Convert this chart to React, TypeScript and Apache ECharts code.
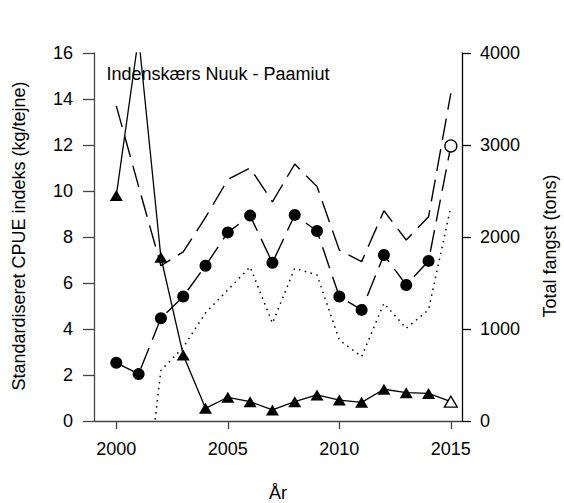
import React, { useEffect, useRef } from "react";
import * as echarts from "echarts";

const years = [2000, 2001, 2002, 2003, 2004, 2005, 2006, 2007, 2008, 2009, 2010, 2011, 2012, 2013, 2014, 2015];
const cpueIndex = [2.53, 2.04, 4.47, 5.41, 6.75, 8.2, 8.93, 6.88, 8.96, 8.26, 5.41, 4.83, 7.22, 5.91, 6.96, 11.96];
const upperCI = [13.7, 10.2, 6.75, 7.35, 8.85, 10.5, 11.0, 9.53, 11.17, 10.19, 7.43, 6.93, 9.14, 7.87, 8.88, 14.25];
const lowerCI = [null, -6.0, 2.2, 3.2, 4.7, 5.7, 6.7, 4.25, 6.64, 6.35, 3.52, 2.8, 5.12, 4.03, 4.83, 9.32];
const totalCatch = [2450, 4175, 1780, 718, 138, 258, 210, 120, 210, 283, 228, 203, 345, 308, 300, 210];
const preliminaryYear = 2015;
const xTicks = [2000, 2005, 2010, 2015];

const FONT = "'Liberation Sans', Arial, Helvetica, sans-serif";

export default function App() {
  const ref = useRef<HTMLDivElement>(null);
  useEffect(() => {
    if (!ref.current) return;
    const chart = echarts.init(ref.current, null, { renderer: "svg" });
    const openStyle = { color: "#fff", borderColor: "#000", borderWidth: 1.3 };
    const cpueData = years.map((y, i) =>
      y === preliminaryYear ? { value: [y, cpueIndex[i]], itemStyle: openStyle } : { value: [y, cpueIndex[i]] }
    );
    const catchData = years.map((y, i) =>
      y === preliminaryYear ? { value: [y, totalCatch[i]], itemStyle: openStyle } : { value: [y, totalCatch[i]] }
    );
    chart.setOption({
      animation: false,
      textStyle: { fontFamily: FONT },
      grid: { left: 94, right: 102, top: 53, bottom: 82 },
      xAxis: {
        type: "value",
        min: 1999,
        max: 2015.5,
        axisLine: { show: true, lineStyle: { color: "#444", width: 1.3 } },
        axisTick: { show: true, length: 8, customValues: xTicks, lineStyle: { color: "#444", width: 1.3 } },
        axisLabel: { customValues: xTicks, margin: 19, fontSize: 18, color: "#000", fontFamily: FONT, formatter: (v: number) => String(v) },
        splitLine: { show: false },
      },
      yAxis: [
        {
          type: "value",
          min: 0,
          max: 16,
          interval: 2,
          position: "left",
          axisLine: { show: true, lineStyle: { color: "#444", width: 1.3 } },
          axisTick: { show: true, length: 11, lineStyle: { color: "#444", width: 1.3 } },
          axisLabel: { margin: 21, fontSize: 18, color: "#000", fontFamily: FONT, formatter: (v: number) => String(v) },
          splitLine: { show: false },
        },
        {
          type: "value",
          min: 0,
          max: 4000,
          interval: 1000,
          position: "right",
          axisLine: { show: true, lineStyle: { color: "#000", width: 1.3 } },
          axisTick: { show: true, length: 9, lineStyle: { color: "#000", width: 1.3 } },
          axisLabel: { margin: 18, fontSize: 18, color: "#000", fontFamily: FONT, formatter: (v: number) => String(v) },
          splitLine: { show: false },
        },
      ],
      graphic: [
        {
          type: "text",
          x: 106.5,
          y: 74,
          style: { text: "Indenskærs Nuuk - Paamiut", fontSize: 18, fontFamily: FONT, fill: "#000", textAlign: "left", textVerticalAlign: "middle" },
        },
        {
          type: "text",
          x: 19,
          y: 236,
          rotation: Math.PI / 2,
          style: { text: "Standardiseret CPUE indeks (kg/tejne)", fontSize: 18, fontFamily: FONT, fill: "#000", textAlign: "center", textVerticalAlign: "middle" },
        },
        {
          type: "text",
          x: 550,
          y: 246,
          rotation: Math.PI / 2,
          style: { text: "Total fangst (tons)", fontSize: 18, fontFamily: FONT, fill: "#000", textAlign: "center", textVerticalAlign: "middle" },
        },
        {
          type: "text",
          x: 278,
          y: 493,
          style: { text: "År", fontSize: 18, fontFamily: FONT, fill: "#000", textAlign: "center", textVerticalAlign: "middle" },
        },
      ],
      series: [
        {
          name: "upper",
          type: "line",
          data: years.map((y, i) => [y, upperCI[i]]),
          symbol: "none",
          lineStyle: { color: "#000", width: 1.4, type: [22, 9] },
          z: 2,
        },
        {
          name: "lower",
          type: "line",
          data: years.map((y, i) => [y, lowerCI[i]]),
          symbol: "none",
          connectNulls: false,
          lineStyle: { color: "#000", width: 1.5, type: [1.5, 4.6] },
          z: 2,
        },
        {
          name: "cpue",
          type: "line",
          data: cpueData,
          symbol: "circle",
          symbolSize: 12,
          itemStyle: { color: "#000" },
          lineStyle: { color: "#000", width: 1.4, type: [22, 9] },
          z: 3,
        },
        {
          name: "catch",
          type: "line",
          yAxisIndex: 1,
          data: catchData,
          symbol: "triangle",
          symbolSize: [13, 11],
          itemStyle: { color: "#000" },
          lineStyle: { color: "#000", width: 1.3, type: "solid" },
          z: 4,
        },
      ],
    });
    return () => chart.dispose();
  }, []);
  return <div ref={ref} style={{ position: "absolute", left: 0, top: 0, width: 564, height: 503 }} />;
}
